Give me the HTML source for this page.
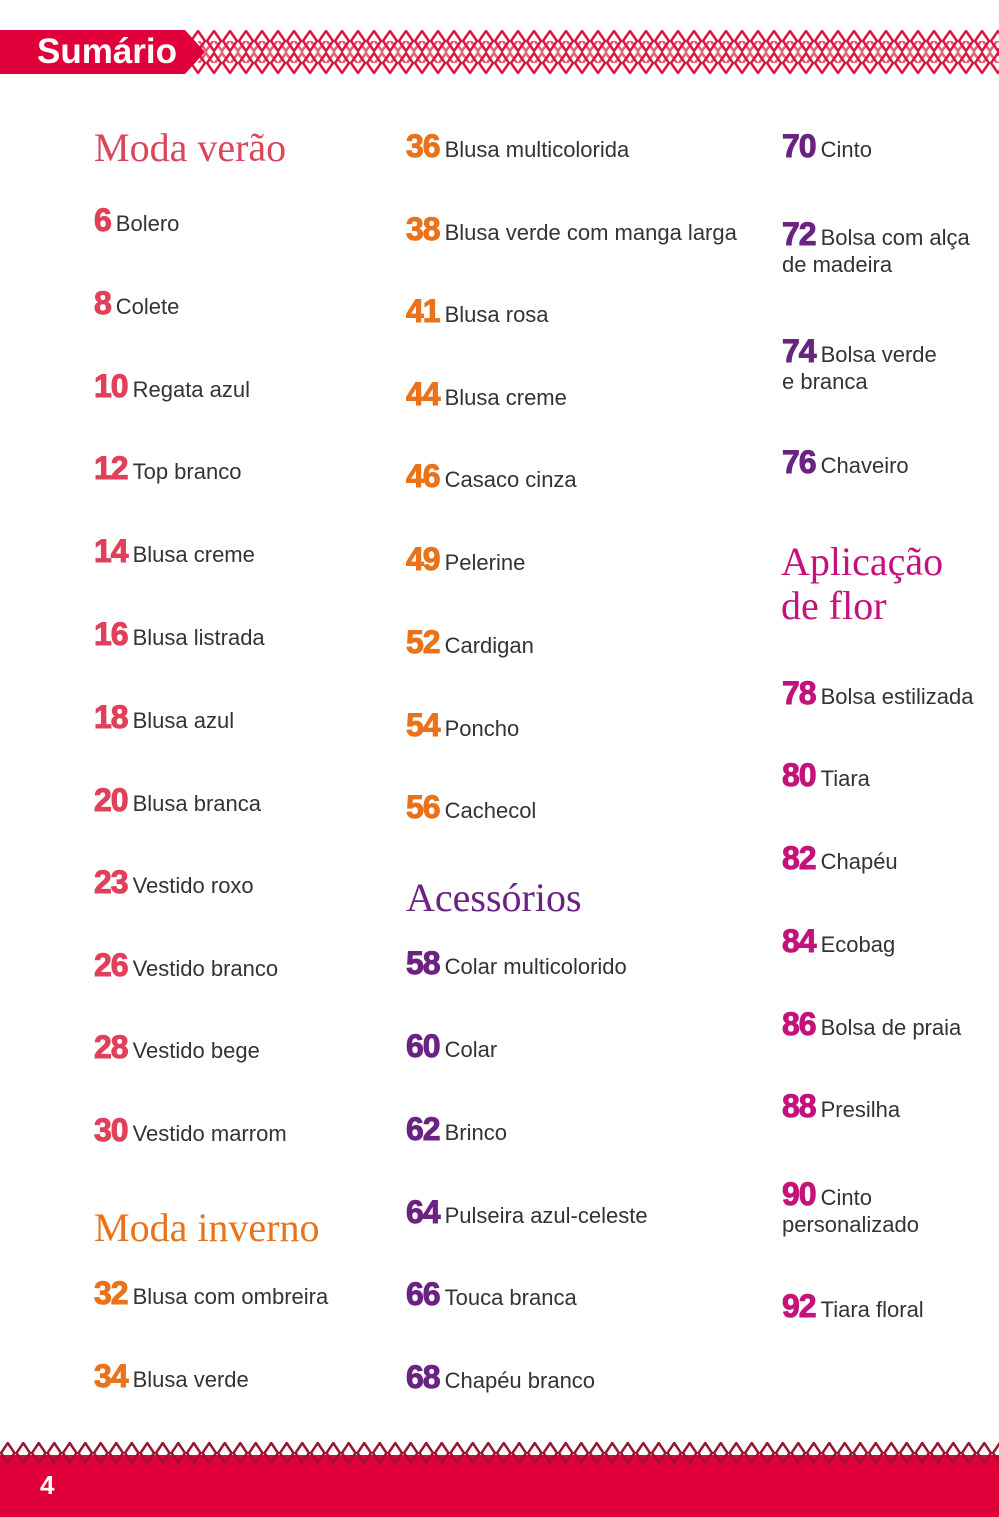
<!DOCTYPE html>
<html><head><meta charset="utf-8"><style>
body{margin:0;width:999px;height:1517px;position:relative;background:#fff;overflow:hidden;font-family:"Liberation Sans",sans-serif}
.e{position:absolute;height:40px;line-height:40px;white-space:nowrap;font-size:22px;color:#333}
.e b{font-size:32px;font-weight:900;letter-spacing:-1px;margin-right:5px;-webkit-text-stroke:1px currentColor}
.r b{color:#e0405a}.o b{color:#e8731a}.p b{color:#6b2382}.m b{color:#c4127c}
.t{position:absolute;font-family:"Liberation Serif",serif;font-size:40px;line-height:44px;white-space:nowrap}
.w{position:absolute;font-size:22px;color:#333;line-height:30px}
</style></head><body>
<svg style="position:absolute;left:0;top:0" width="999" height="90">
<defs><pattern id="dp" x="190" y="30" width="16" height="22" patternUnits="userSpaceOnUse">
<path d="M8 1 L15 11 L8 21 L1 11 Z" fill="none" stroke="#d9173f" stroke-width="2.5"/></pattern></defs>
<rect x="190" y="30" width="809" height="44" fill="url(#dp)"/>
<rect x="190" y="41" width="809" height="22" fill="url(#dp)" transform="translate(8,0)" opacity=".7"/>
<polygon points="0,30 185,30 205,52 185,74 0,74" fill="#e0003a"/>
</svg>
<div style="position:absolute;left:37px;top:30px;line-height:44px;font-size:35px;font-weight:bold;color:#fff">Sumário</div>

<div class="t" style="left:94px;top:126px;color:#d9475a">Moda verão</div>
<div class="e r" style="left:94px;top:200px"><b>6</b>Bolero</div>
<div class="e r" style="left:94px;top:283px"><b>8</b>Colete</div>
<div class="e r" style="left:94px;top:366px"><b>10</b>Regata azul</div>
<div class="e r" style="left:94px;top:448px"><b>12</b>Top branco</div>
<div class="e r" style="left:94px;top:531px"><b>14</b>Blusa creme</div>
<div class="e r" style="left:94px;top:614px"><b>16</b>Blusa listrada</div>
<div class="e r" style="left:94px;top:697px"><b>18</b>Blusa azul</div>
<div class="e r" style="left:94px;top:780px"><b>20</b>Blusa branca</div>
<div class="e r" style="left:94px;top:862px"><b>23</b>Vestido roxo</div>
<div class="e r" style="left:94px;top:945px"><b>26</b>Vestido branco</div>
<div class="e r" style="left:94px;top:1027px"><b>28</b>Vestido bege</div>
<div class="e r" style="left:94px;top:1110px"><b>30</b>Vestido marrom</div>
<div class="t" style="left:94px;top:1206px;color:#e8731a">Moda inverno</div>
<div class="e o" style="left:94px;top:1273px"><b>32</b>Blusa com ombreira</div>
<div class="e o" style="left:94px;top:1356px"><b>34</b>Blusa verde</div>

<div class="e o" style="left:406px;top:126px"><b>36</b>Blusa multicolorida</div>
<div class="e o" style="left:406px;top:209px"><b>38</b>Blusa verde com manga larga</div>
<div class="e o" style="left:406px;top:291px"><b>41</b>Blusa rosa</div>
<div class="e o" style="left:406px;top:374px"><b>44</b>Blusa creme</div>
<div class="e o" style="left:406px;top:456px"><b>46</b>Casaco cinza</div>
<div class="e o" style="left:406px;top:539px"><b>49</b>Pelerine</div>
<div class="e o" style="left:406px;top:622px"><b>52</b>Cardigan</div>
<div class="e o" style="left:406px;top:705px"><b>54</b>Poncho</div>
<div class="e o" style="left:406px;top:787px"><b>56</b>Cachecol</div>
<div class="t" style="left:406px;top:876px;color:#6b2382">Acessórios</div>
<div class="e p" style="left:406px;top:943px"><b>58</b>Colar multicolorido</div>
<div class="e p" style="left:406px;top:1026px"><b>60</b>Colar</div>
<div class="e p" style="left:406px;top:1109px"><b>62</b>Brinco</div>
<div class="e p" style="left:406px;top:1192px"><b>64</b>Pulseira azul-celeste</div>
<div class="e p" style="left:406px;top:1274px"><b>66</b>Touca branca</div>
<div class="e p" style="left:406px;top:1357px"><b>68</b>Chapéu branco</div>

<div class="e p" style="left:782px;top:126px"><b>70</b>Cinto</div>
<div class="e p" style="left:782px;top:214px"><b>72</b>Bolsa com alça</div>
<div class="w" style="left:782px;top:250px">de madeira</div>
<div class="e p" style="left:782px;top:331px"><b>74</b>Bolsa verde</div>
<div class="w" style="left:782px;top:367px">e branca</div>
<div class="e p" style="left:782px;top:442px"><b>76</b>Chaveiro</div>
<div class="t" style="left:781px;top:540px;color:#c4127c">Aplicação<br>de flor</div>
<div class="e m" style="left:782px;top:673px"><b>78</b>Bolsa estilizada</div>
<div class="e m" style="left:782px;top:755px"><b>80</b>Tiara</div>
<div class="e m" style="left:782px;top:838px"><b>82</b>Chapéu</div>
<div class="e m" style="left:782px;top:921px"><b>84</b>Ecobag</div>
<div class="e m" style="left:782px;top:1004px"><b>86</b>Bolsa de praia</div>
<div class="e m" style="left:782px;top:1086px"><b>88</b>Presilha</div>
<div class="e m" style="left:782px;top:1174px"><b>90</b>Cinto</div>
<div class="w" style="left:782px;top:1210px">personalizado</div>
<div class="e m" style="left:782px;top:1286px"><b>92</b>Tiara floral</div>

<svg style="position:absolute;left:0;top:1435px" width="999" height="82">
<defs><pattern id="fp" x="0" y="7" width="15.5" height="22" patternUnits="userSpaceOnUse">
<path d="M7.75 1 L14.5 11 L7.75 21 L1 11 Z" fill="none" stroke="#9a1530" stroke-width="2.5"/></pattern></defs>
<rect x="0" y="20" width="999" height="62" fill="#e0003a"/>
<rect x="0" y="7" width="999" height="22" fill="url(#fp)"/>
</svg>
<div style="position:absolute;left:40px;top:1470px;font-size:26px;font-weight:bold;color:#fff">4</div>
</body></html>
